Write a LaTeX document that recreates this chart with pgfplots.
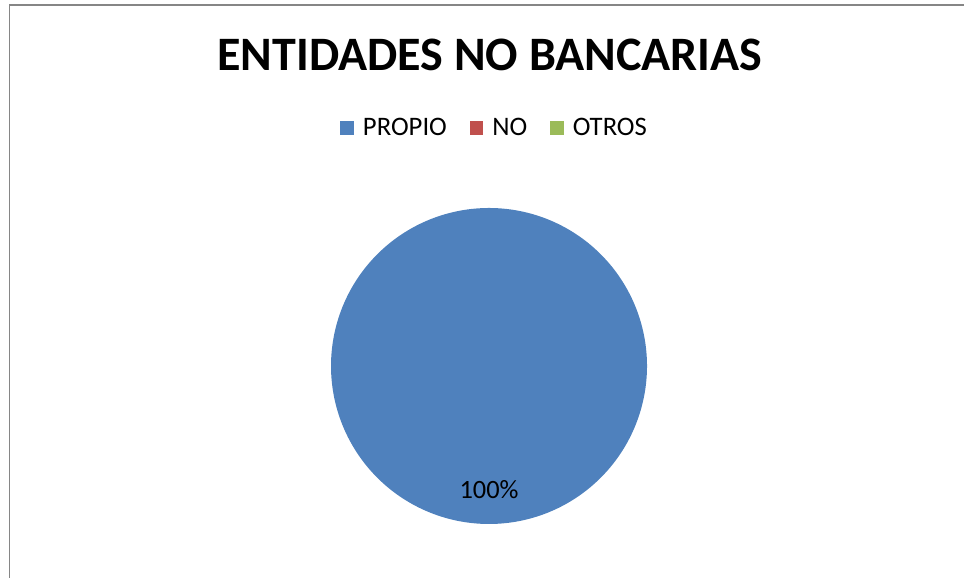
\documentclass[border=0pt]{standalone}
\usepackage{pgfplots}
\pgfplotsset{compat=1.18}
\usepackage{pgfplotstable}
\usepackage{fontspec}
\setmainfont{Carlito}
\definecolor{pblue}{HTML}{4F81BD}
\definecolor{pred}{HTML}{C0504D}
\definecolor{pgreen}{HTML}{9BBB59}
\definecolor{framegray}{RGB}{134,134,134}
\pgfplotstableread{
label value
PROPIO 100
NO 0
OTROS 0
}\piedata
\begin{document}
\begin{tikzpicture}[x=1bp,y=1bp]
\useasboundingbox (0,0) rectangle (964,578);
\draw[line width=1.6bp, framegray] (9.5,-5) -- (9.5,573) -- (970,573);
\node[font=\bfseries\fontsize{48.2}{58}\selectfont] at (490,523) {ENTIDADES NO BANCARIAS};
\pgfplotstablegetelem{0}{value}\of\piedata
\let\vA\pgfplotsretval
\pgfmathsetmacro{\endA}{90-3.6*\vA}
\begin{axis}[at={(489bp,212bp)}, anchor=center,
  width=316bp, height=316bp, scale only axis, hide axis,
  xmin=-1, xmax=1, ymin=-1, ymax=1,
  legend columns=3,
  legend image code/.code={\fill[#1] (0bp,-6.5bp) rectangle (13.5bp,7bp);},
  legend style={at={(0.518,1.253)}, anchor=center, draw=none, fill=none,
    font=\fontsize{26.8}{31}\selectfont,
    /tikz/every odd column/.append style={column sep=7bp},
    /tikz/every even column/.append style={column sep=21bp}},
]
\addplot[fill=pblue, draw=none, domain=90:\endA, samples=361, variable=\t] ({cos(t)},{sin(t)});
\addlegendentry{PROPIO}
\addlegendimage{fill=pred, draw=none}
\addlegendentry{NO}
\addlegendimage{fill=pgreen, draw=none}
\addlegendentry{OTROS}
\node[font=\fontsize{26.5}{31}\selectfont] at (axis cs:0,-0.785) {100\%};
\end{axis}
\end{tikzpicture}
\end{document}
